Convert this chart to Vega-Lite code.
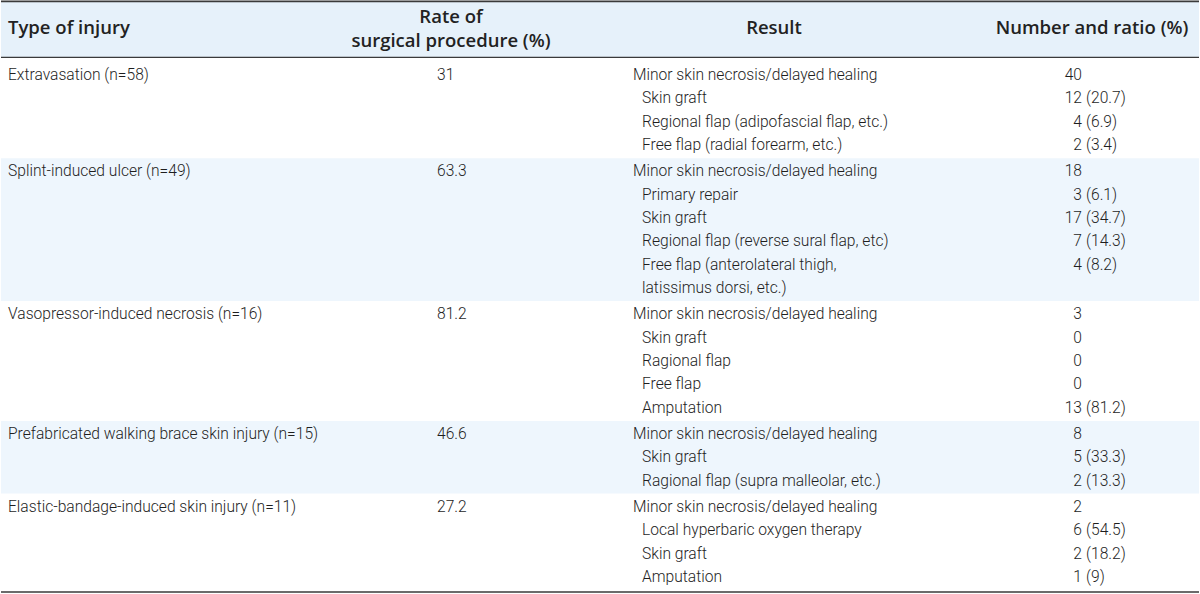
{
  "$schema": "https://vega.github.io/schema/vega-lite/v6.json",
  "width": 1200,
  "height": 594,
  "padding": 0,
  "autosize": {"type": "fit", "contains": "padding"},
  "background": "white",
  "config": {
    "view": {"stroke": null},
    "text": {"font": "Roboto", "fontWeight": 300, "fontSize": 15.6, "color": "#1e1e1e", "baseline": "middle"}
  },
  "datasets": {
    "header": [
      {"line": -2, "c1": "Type of injury", "c2": "Rate of\nsurgical procedure (%)", "c3": "Result", "c4": "Number and ratio (%)"}
    ],
    "rows": [
      {"grp": 0, "line": 0, "injury": "Extravasation (n=58)", "rate": "31", "result": "Minor skin necrosis/delayed healing", "level": 0, "n": "40", "pct": ""},
      {"grp": 0, "line": 1, "result": "Skin graft", "level": 1, "n": "12", "pct": "(20.7)"},
      {"grp": 0, "line": 2, "result": "Regional flap (adipofascial flap, etc.)", "level": 1, "n": "4", "pct": "(6.9)"},
      {"grp": 0, "line": 3, "result": "Free flap (radial forearm, etc.)", "level": 1, "n": "2", "pct": "(3.4)"},
      {"grp": 1, "line": 4, "injury": "Splint-induced ulcer (n=49)", "rate": "63.3", "result": "Minor skin necrosis/delayed healing", "level": 0, "n": "18", "pct": ""},
      {"grp": 1, "line": 5, "result": "Primary repair", "level": 1, "n": "3", "pct": "(6.1)"},
      {"grp": 1, "line": 6, "result": "Skin graft", "level": 1, "n": "17", "pct": "(34.7)"},
      {"grp": 1, "line": 7, "result": "Regional flap (reverse sural flap, etc)", "level": 1, "n": "7", "pct": "(14.3)"},
      {"grp": 1, "line": 8, "result": "Free flap (anterolateral thigh,", "level": 1, "n": "4", "pct": "(8.2)"},
      {"grp": 1, "line": 9, "result": "latissimus dorsi, etc.)", "level": 1, "n": "", "pct": ""},
      {"grp": 2, "line": 10, "injury": "Vasopressor-induced necrosis (n=16)", "rate": "81.2", "result": "Minor skin necrosis/delayed healing", "level": 0, "n": "3", "pct": ""},
      {"grp": 2, "line": 11, "result": "Skin graft", "level": 1, "n": "0", "pct": ""},
      {"grp": 2, "line": 12, "result": "Ragional flap", "level": 1, "n": "0", "pct": ""},
      {"grp": 2, "line": 13, "result": "Free flap", "level": 1, "n": "0", "pct": ""},
      {"grp": 2, "line": 14, "result": "Amputation", "level": 1, "n": "13", "pct": "(81.2)"},
      {"grp": 3, "line": 15, "injury": "Prefabricated walking brace skin injury (n=15)", "rate": "46.6", "result": "Minor skin necrosis/delayed healing", "level": 0, "n": "8", "pct": ""},
      {"grp": 3, "line": 16, "result": "Skin graft", "level": 1, "n": "5", "pct": "(33.3)"},
      {"grp": 3, "line": 17, "result": "Ragional flap (supra malleolar, etc.)", "level": 1, "n": "2", "pct": "(13.3)"},
      {"grp": 4, "line": 18, "injury": "Elastic-bandage-induced skin injury (n=11)", "rate": "27.2", "result": "Minor skin necrosis/delayed healing", "level": 0, "n": "2", "pct": ""},
      {"grp": 4, "line": 19, "result": "Local hyperbaric oxygen therapy", "level": 1, "n": "6", "pct": "(54.5)"},
      {"grp": 4, "line": 20, "result": "Skin graft", "level": 1, "n": "2", "pct": "(18.2)"},
      {"grp": 4, "line": 21, "result": "Amputation", "level": 1, "n": "1", "pct": "(9)"}
    ]
  },
  "layer": [
    {
      "data": {"name": "header"},
      "mark": {"type": "rect", "fill": "#e6f1fa", "yOffset": -27, "y2Offset": 29},
      "encoding": {
        "x": {"value": 0},
        "x2": {"value": "width"},
        "y": {"field": "line", "type": "quantitative", "axis": null,
              "scale": {"domain": [-3.2147, 22.246], "reverse": true, "nice": false, "zero": false}},
        "y2": {"field": "line"}
      }
    },
    {
      "data": {"name": "rows"},
      "transform": [
        {"calculate": "datum.line + 0.1286 * datum.grp", "as": "pos"},
        {"filter": "datum.grp == 1 || datum.grp == 3"}
      ],
      "mark": {"type": "rect", "fill": "#eef6fd", "yOffset": -13, "y2Offset": 13},
      "encoding": {
        "x": {"value": 0},
        "x2": {"value": "width"},
        "y": {"aggregate": "min", "field": "pos", "type": "quantitative"},
        "y2": {"aggregate": "max", "field": "pos"},
        "detail": {"field": "grp", "type": "nominal"}
      }
    },
    {
      "data": {"name": "header"},
      "mark": {"type": "rule", "stroke": "#3a3a3a", "strokeWidth": 1.6, "yOffset": -27},
      "encoding": {
        "x": {"value": 0},
        "x2": {"value": "width"},
        "y": {"field": "line", "type": "quantitative"}
      }
    },
    {
      "data": {"name": "header"},
      "mark": {"type": "rule", "stroke": "#3a3a3a", "strokeWidth": 1.4, "yOffset": 29},
      "encoding": {
        "x": {"value": 0},
        "x2": {"value": "width"},
        "y": {"field": "line", "type": "quantitative"}
      }
    },
    {
      "data": {"name": "rows"},
      "transform": [{"calculate": "datum.line + 0.1286 * datum.grp", "as": "pos"}],
      "mark": {"type": "rule", "stroke": "#3a3a3a", "strokeWidth": 1.6, "yOffset": 15},
      "encoding": {
        "x": {"value": 0},
        "x2": {"value": "width"},
        "y": {"aggregate": "max", "field": "pos", "type": "quantitative"}
      }
    },
    {
      "data": {"name": "header"},
      "mark": {"type": "text", "align": "left", "font": "Open Sans", "fontWeight": 600, "fontSize": 18.5, "color": "#222"},
      "encoding": {
        "x": {"datum": 0, "type": "quantitative", "axis": null,
              "scale": {"type": "linear", "domain": [0, 1, 2, 3, 4, 5, 6], "range": [7, 436, 450, 632, 773, 1081, 1091], "nice": false, "zero": false}},
        "y": {"field": "line", "type": "quantitative"},
        "text": {"field": "c1"}
      }
    },
    {
      "data": {"name": "header"},
      "mark": {"type": "text", "align": "center", "font": "Open Sans", "fontWeight": 600, "fontSize": 18.5, "color": "#222", "lineBreak": "\n", "lineHeight": 24, "dy": -11.5},
      "encoding": {
        "x": {"datum": 2, "type": "quantitative"},
        "y": {"field": "line", "type": "quantitative"},
        "text": {"field": "c2"}
      }
    },
    {
      "data": {"name": "header"},
      "mark": {"type": "text", "align": "center", "font": "Open Sans", "fontWeight": 600, "fontSize": 18.5, "color": "#222"},
      "encoding": {
        "x": {"datum": 4, "type": "quantitative"},
        "y": {"field": "line", "type": "quantitative"},
        "text": {"field": "c3"}
      }
    },
    {
      "data": {"name": "header"},
      "mark": {"type": "text", "align": "center", "font": "Open Sans", "fontWeight": 600, "fontSize": 18.5, "color": "#222"},
      "encoding": {
        "x": {"datum": 6, "type": "quantitative"},
        "y": {"field": "line", "type": "quantitative"},
        "text": {"field": "c4"}
      }
    },
    {
      "data": {"name": "rows"},
      "transform": [
        {"calculate": "datum.line + 0.1286 * datum.grp", "as": "pos"},
        {"filter": "isValid(datum.injury)"}
      ],
      "mark": {"type": "text", "align": "left"},
      "encoding": {
        "x": {"datum": 0, "type": "quantitative"},
        "y": {"field": "pos", "type": "quantitative"},
        "text": {"field": "injury"}
      }
    },
    {
      "data": {"name": "rows"},
      "transform": [
        {"calculate": "datum.line + 0.1286 * datum.grp", "as": "pos"},
        {"filter": "isValid(datum.rate)"}
      ],
      "mark": {"type": "text", "align": "left"},
      "encoding": {
        "x": {"datum": 1, "type": "quantitative"},
        "y": {"field": "pos", "type": "quantitative"},
        "text": {"field": "rate"}
      }
    },
    {
      "data": {"name": "rows"},
      "transform": [
        {"calculate": "datum.line + 0.1286 * datum.grp", "as": "pos"},
        {"filter": "datum.level == 0"}
      ],
      "mark": {"type": "text", "align": "left"},
      "encoding": {
        "x": {"datum": 3, "type": "quantitative"},
        "y": {"field": "pos", "type": "quantitative"},
        "text": {"field": "result"}
      }
    },
    {
      "data": {"name": "rows"},
      "transform": [
        {"calculate": "datum.line + 0.1286 * datum.grp", "as": "pos"},
        {"filter": "datum.level == 1"}
      ],
      "mark": {"type": "text", "align": "left", "dx": 9},
      "encoding": {
        "x": {"datum": 3, "type": "quantitative"},
        "y": {"field": "pos", "type": "quantitative"},
        "text": {"field": "result"}
      }
    },
    {
      "data": {"name": "rows"},
      "transform": [{"calculate": "datum.line + 0.1286 * datum.grp", "as": "pos"}],
      "mark": {"type": "text", "align": "right"},
      "encoding": {
        "x": {"datum": 5, "type": "quantitative"},
        "y": {"field": "pos", "type": "quantitative"},
        "text": {"field": "n"}
      }
    },
    {
      "data": {"name": "rows"},
      "transform": [{"calculate": "datum.line + 0.1286 * datum.grp", "as": "pos"}],
      "mark": {"type": "text", "align": "left", "dx": 4},
      "encoding": {
        "x": {"datum": 5, "type": "quantitative"},
        "y": {"field": "pos", "type": "quantitative"},
        "text": {"field": "pct"}
      }
    }
  ]
}
